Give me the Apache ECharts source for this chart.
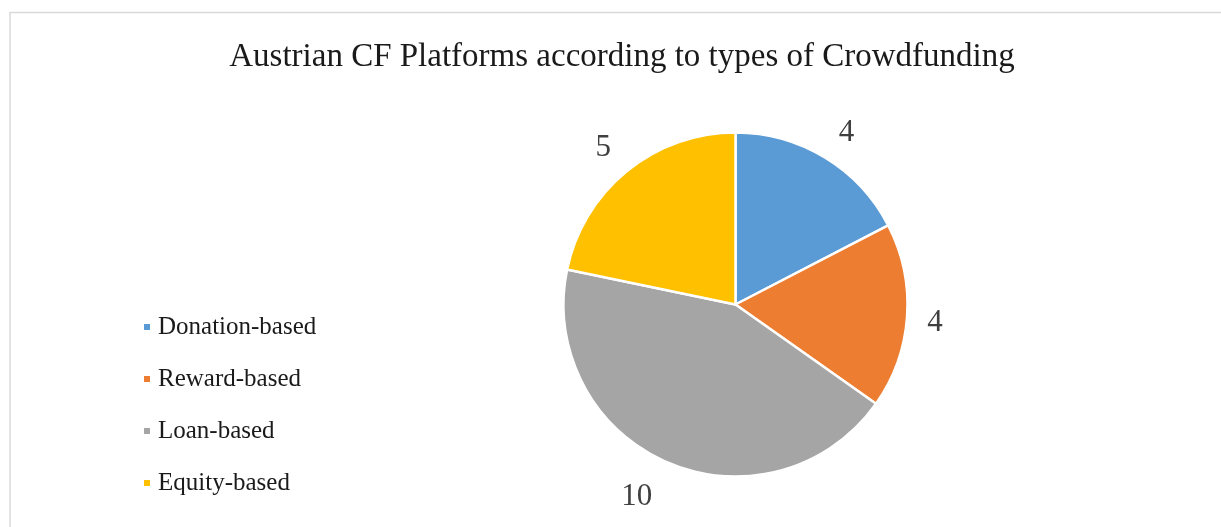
<!DOCTYPE html>
<html>
<head>
<meta charset="utf-8">
<script src="https://cdn.jsdelivr.net/npm/echarts@6/dist/echarts.min.js"></script>
<style>
  html, body { margin: 0; padding: 0; background: #fff; }
  #chart { width: 1221px; height: 527px; }
</style>
</head>
<body>
<div id="chart"></div>
<script>
// Platform counts by crowdfunding type
const categories = ['Donation-based', 'Reward-based', 'Loan-based', 'Equity-based'];
const platformCounts = [4, 4, 10, 5];
const sliceColors = ['#5B9BD5', '#ED7D31', '#A5A5A5', '#FFC000'];
const titleText = 'Austrian CF Platforms according to types of Crowdfunding';

const serif = '"Liberation Serif", "DejaVu Serif", serif';

const pieData = categories.map((name, i) => ({
  name: name,
  value: platformCounts[i],
  itemStyle: { color: sliceColors[i] }
}));

// value labels sit on a transparent ring just outside the pie,
// with small per-slice nudges for a best-fit look
const labelNudge = {
  'Donation-based': [3, 6],
  'Reward-based': [-8, 4],
  'Loan-based': [-16, 2],
  'Equity-based': [-1, 5]
};
const labelData = categories.map((name, i) => ({
  name: name,
  value: platformCounts[i],
  label: { offset: labelNudge[name] }
}));

const chart = echarts.init(document.getElementById('chart'), null, { renderer: 'canvas' });

chart.setOption({
  backgroundColor: '#ffffff',
  animation: false,
  title: {
    text: titleText,
    left: 617,
    textAlign: 'center',
    top: 36,
    textStyle: { fontFamily: serif, fontSize: 33, fontWeight: 'normal', color: '#1a1a1a' }
  },
  legend: {
    orient: 'vertical',
    left: 137,
    top: 309,
    itemWidth: 8,
    itemHeight: 8,
    itemGap: 26,
    icon: 'rect',
    selectedMode: false,
    data: categories,
    textStyle: { fontFamily: serif, fontSize: 25, color: '#1a1a1a', lineHeight: 26, padding: [0, 0, 0, 2] }
  },
  graphic: [{
    type: 'rect',
    shape: { x: 10, y: 12.5, width: 1400, height: 700 },
    style: { fill: 'none', stroke: '#d9d9d9', lineWidth: 1.5 },
    silent: true
  }],
  series: [
    {
      type: 'pie',
      center: [735.5, 304.5],
      radius: [0, 172],
      startAngle: 90,
      clockwise: true,
      data: pieData,
      itemStyle: { borderColor: '#ffffff', borderWidth: 2.5 },
      label: { show: false },
      labelLine: { show: false },
      emphasis: { disabled: true }
    },
    {
      type: 'pie',
      center: [735.5, 304.5],
      radius: [172, 238],
      startAngle: 90,
      clockwise: true,
      silent: true,
      data: labelData,
      itemStyle: { color: 'rgba(0,0,0,0)' },
      label: {
        show: true,
        position: 'inside',
        formatter: '{c}',
        fontFamily: serif,
        fontSize: 31,
        color: '#404040'
      },
      labelLine: { show: false },
      emphasis: { disabled: true }
    }
  ]
});
</script>
</body>
</html>
